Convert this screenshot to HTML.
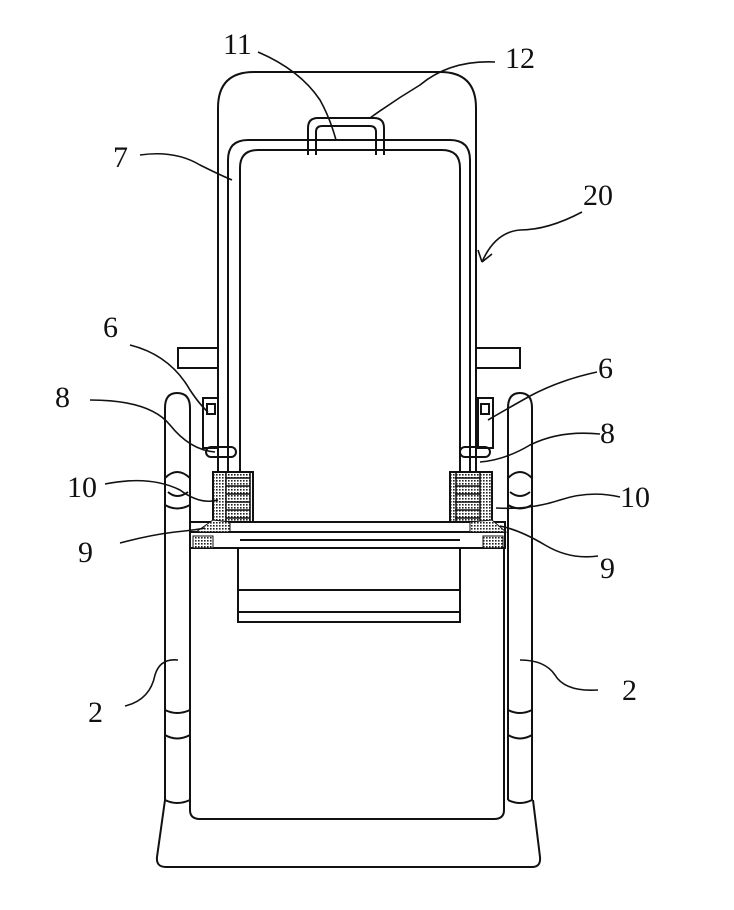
<!DOCTYPE html>
<html><head><meta charset="utf-8"><style>body{margin:0;background:#fff}svg{display:block}text{font-family:"Liberation Serif",serif;font-size:30px;fill:#111}</style></head>
<body>
<svg width="734" height="910" viewBox="0 0 734 910" xmlns="http://www.w3.org/2000/svg">
<defs><pattern id="d" width="3" height="3" patternUnits="userSpaceOnUse"><rect width="3" height="3" fill="#fff"/><rect width="1.6" height="1.6" fill="#222"/></pattern></defs>
<g fill="none" stroke="#111" stroke-width="2">
<!-- back outer -->
<path d="M218 522 V108 Q218 72 254 72 H440 Q476 72 476 108 V522"/>
<!-- rail 7 -->
<path d="M228 520 V160 Q228 140 248 140 H450 Q470 140 470 160 V520"/>
<path d="M240 520 V168 Q240 150 258 150 H442 Q460 150 460 168 V520"/>
<!-- handle 12 -->
<path d="M308 155 V128 Q308 118 318 118 H374 Q384 118 384 128 V155"/>
<path d="M316 155 V132 Q316 126 322 126 H370 Q376 126 376 132 V155"/>
<!-- armrests -->
<rect x="178" y="348" width="40" height="20"/><rect x="476" y="348" width="44" height="20"/>
<!-- brackets 6 -->
<rect x="203" y="398" width="15" height="50"/><rect x="478" y="398" width="15" height="50"/>
<rect x="207" y="404" width="8" height="10"/><rect x="481" y="404" width="8" height="10"/>
<rect x="206" y="447" width="30" height="10" rx="5"/><rect x="460" y="447" width="30" height="10" rx="5"/>
<!-- posts -->
<path d="M165 800 V408 Q165 393 177 393 Q190 393 190 408 V800"/>
<path d="M508 800 V408 Q508 393 520 393 Q532 393 532 408 V800"/>
<path d="M165 478 Q177 466 190 478 M168 492 Q177 500 188 492 M165 505 Q177 512 190 505"/>
<path d="M508 478 Q520 466 532 478 M510 492 Q520 500 530 492 M508 505 Q520 512 532 505"/>
<path d="M165 710 Q177 716 190 710 M165 735 Q177 742 190 735 M508 710 Q520 716 532 710 M508 735 Q520 742 532 735"/>
<path d="M165 800 Q177 806 190 800 M508 800 Q520 806 532 800"/>
<!-- seat bar -->
<rect x="190" y="522" width="315" height="10"/><rect x="190" y="532" width="315" height="16"/>
<line x1="240" y1="540" x2="460" y2="540"/>
<!-- under box -->
<rect x="238" y="548" width="222" height="74"/><line x1="238" y1="590" x2="460" y2="590"/><line x1="238" y1="612" x2="460" y2="612"/>
<!-- lower box -->
<path d="M190 548 V810 Q190 819 200 819 H494 Q504 819 504 810 V548"/>
<!-- base -->
<path d="M165 800 L157 857 Q156 867 166 867 H532 Q541 867 540 857 L533 800"/>
</g>
<!-- springs -->
<rect x="213" y="472" width="40" height="50" fill="url(#d)" stroke="#111" stroke-width="2"/>
<rect x="450" y="472" width="42" height="50" fill="url(#d)" stroke="#111" stroke-width="2"/>
<g stroke="#111" stroke-width="1.5"><path d="M226 478 H250 M226 486 H250 M226 494 H250 M226 502 H250 M226 510 H250 M226 518 H250 M455 478 H480 M455 486 H480 M455 494 H480 M455 502 H480 M455 510 H480 M455 518 H480"/></g>
<rect x="226" y="472" width="24" height="50" fill="none" stroke="#111" stroke-width="1.5"/>
<rect x="456" y="472" width="24" height="50" fill="none" stroke="#111" stroke-width="1.5"/>
<polygon points="196,532 213,520 230,522 230,532" fill="url(#d)" stroke="#111"/>
<polygon points="470,522 492,520 506,532 470,532" fill="url(#d)" stroke="#111"/>
<rect x="193" y="536" width="20" height="12" fill="url(#d)" stroke="#111"/>
<rect x="483" y="536" width="20" height="12" fill="url(#d)" stroke="#111"/>
<!-- leaders -->
<g fill="none" stroke="#111" stroke-width="1.6">
<path d="M258 52 Q300 70 320 100 Q330 118 336 140"/>
<path d="M495 62 Q450 60 420 85 Q395 100 370 118"/>
<path d="M140 155 Q175 150 200 165 Q220 175 232 180"/>
<path d="M582 212 Q548 230 520 230 Q495 232 482 262"/>
<path d="M482 262 l-4 -12 M482 262 l10 -8"/>
<path d="M130 345 Q170 355 190 390 Q200 405 208 412"/>
<path d="M90 400 Q150 400 170 425 Q190 450 215 452"/>
<path d="M105 484 Q150 475 180 490 Q200 505 218 500"/>
<path d="M120 543 Q150 535 175 532 Q195 530 205 528"/>
<path d="M178 660 Q160 658 155 675 Q150 700 125 706"/>
<path d="M597 372 Q560 380 530 396 Q505 410 488 420"/>
<path d="M600 434 Q560 430 530 445 Q505 460 480 462"/>
<path d="M620 497 Q590 490 560 500 Q530 510 496 508"/>
<path d="M598 556 Q570 560 545 545 Q520 530 500 526"/>
<path d="M520 660 Q545 660 555 675 Q565 692 598 690"/>
</g>
<text x="223" y="54">11</text><text x="505" y="68">12</text>
<text x="113" y="167">7</text><text x="583" y="205">20</text>
<text x="103" y="337">6</text><text x="598" y="378">6</text>
<text x="55" y="407">8</text><text x="600" y="443">8</text>
<text x="67" y="497">10</text><text x="620" y="507">10</text>
<text x="78" y="562">9</text><text x="600" y="578">9</text>
<text x="88" y="722">2</text><text x="622" y="700">2</text>
</svg>
</body></html>
